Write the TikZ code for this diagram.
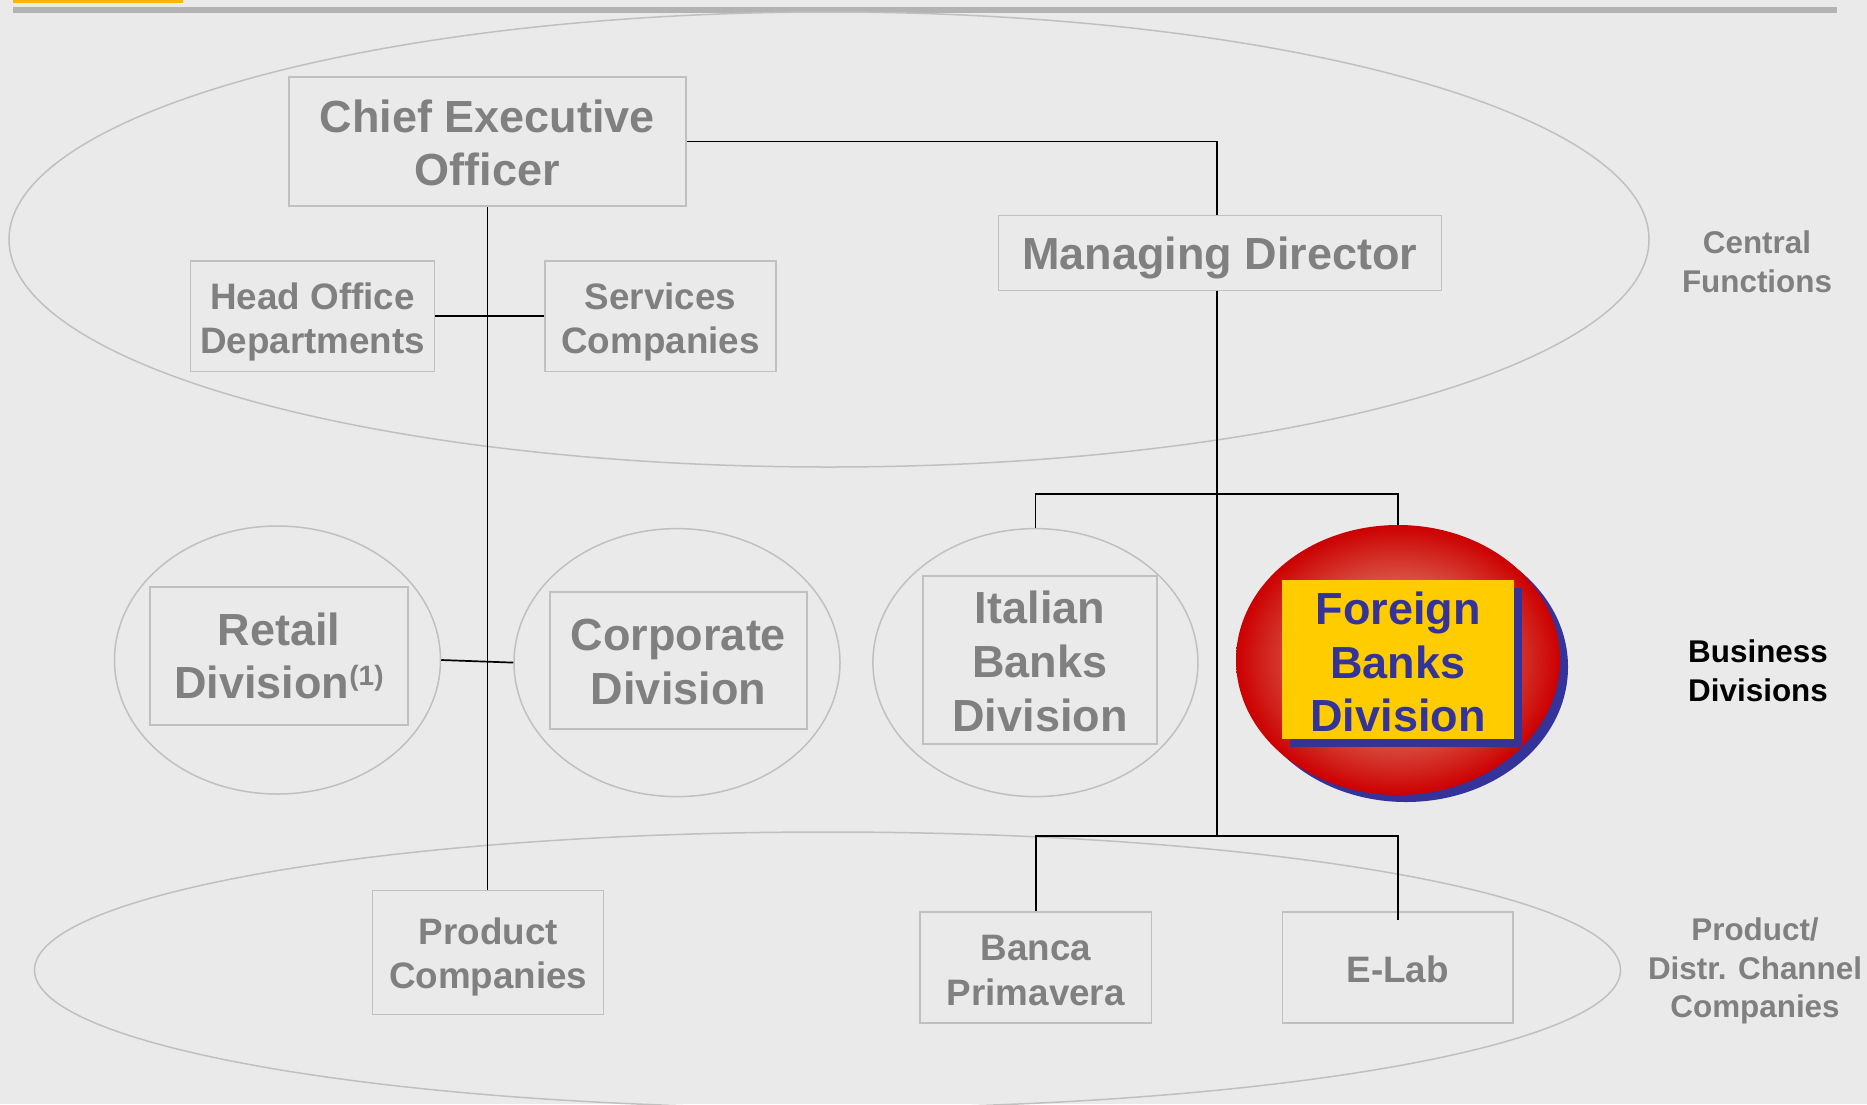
\documentclass[tikz,border=0pt]{standalone}
\usepackage{fontspec}
\setmainfont{Liberation Sans}
\usetikzlibrary{shapes.geometric}
\definecolor{bg}{RGB}{234,234,234}
\definecolor{rulegray}{RGB}{179,179,179}
\definecolor{barorange}{RGB}{255,182,0}
\definecolor{linegray}{RGB}{192,192,192}
\definecolor{txtgray}{RGB}{128,128,128}
\definecolor{fbblue}{RGB}{51,51,153}
\definecolor{fbyellow}{RGB}{255,204,0}
\definecolor{fbred}{RGB}{204,0,0}
\definecolor{fblight}{RGB}{226,145,120}
\pgfdeclareradialshading{redglow}{\pgfpoint{0bp}{0bp}}{%
  color(0bp)=(fblight); color(7bp)=(fblight); color(25bp)=(fbred); color(50bp)=(fbred)}
\begin{document}
\begin{tikzpicture}[x=1pt,y=-1pt,
  bigfont/.style={font=\bfseries\fontsize{45}{53.6}\selectfont},
  midfont/.style={font=\bfseries\fontsize{36.8}{44}\selectfont},
  sidefont/.style={font=\bfseries\fontsize{31.4}{38.5}\selectfont},
  box/.style={draw=linegray, line width=1.5pt, rectangle, inner sep=0pt},
  boxtext/.style={align=center, text=txtgray, inner sep=0pt},
  oval/.style={draw=linegray, line width=1.5pt, ellipse, inner sep=0pt},
  conn/.style={draw=black, line width=1.7pt},
  sidelabel/.style={align=center, sidefont, inner sep=0pt}]
% canvas
\useasboundingbox (0,0) rectangle (1867,1104);
\fill[bg] (0,0) rectangle (1867,1104);
\fill[barorange] (13,0) rectangle (183,2.5);
\fill[rulegray] (13,7) rectangle (1837,13);

% large grouping ellipses
\node[oval, minimum width=1640pt, minimum height=455pt] (central) at (829,239.5) {};
\node[oval, minimum width=1586pt, minimum height=276pt] (lower) at (827.5,970) {};

% division ellipses
\node[oval, minimum width=326pt, minimum height=268pt] (retailov) at (277.5,660) {};
\node[oval, minimum width=326pt, minimum height=268pt] (corpov) at (677,662.6) {};
\node[oval, minimum width=325pt, minimum height=268pt] (italov) at (1035.4,662.6) {};
\node[ellipse, fill=fbblue, inner sep=0pt, minimum width=324pt, minimum height=270pt] (forshadow) at (1406,667) {};
\node[ellipse, inner sep=0pt, minimum width=324pt, minimum height=270pt] (forov) at (1398,660) {};
\shade[shading=redglow] (1398,660) ellipse [x radius=162, y radius=135];

% boxes (frames)
\node[box, minimum width=397pt, minimum height=129pt] (ceo) at (487.5,141.5) {};
\node[box, minimum width=443pt, minimum height=75pt] (md) at (1219.75,253) {};
\node[box, minimum width=244pt, minimum height=110.5pt] (head) at (312.5,316.25) {};
\node[box, minimum width=231pt, minimum height=110.5pt] (serv) at (660.5,316.25) {};
\node[box, minimum width=258pt, minimum height=138pt] (retail) at (279,656) {};
\node[box, minimum width=257pt, minimum height=137pt] (corp) at (678.5,660.5) {};
\node[box, minimum width=234pt, minimum height=168pt] (ital) at (1040,660) {};
\node[rectangle, fill=fbblue, inner sep=0pt, minimum width=232pt, minimum height=159pt] (forboxshadow) at (1406,667.5) {};
\node[rectangle, fill=fbyellow, inner sep=0pt, minimum width=232pt, minimum height=159pt] (foreign) at (1398,659.5) {};
\node[box, minimum width=231pt, minimum height=124pt] (prod) at (488.2,952.5) {};
\node[box, minimum width=231.5pt, minimum height=111pt] (banca) at (1035.75,967.5) {};
\node[box, minimum width=230.5pt, minimum height=111pt] (elab) at (1397.75,967.5) {};

% box texts
\node[boxtext, bigfont] (ceotxt) at ([yshift=-1.5pt]ceo.center) {Chief Executive\\Officer};
\node[boxtext, bigfont] (mdtxt) at ([yshift=-5pt]md.center) {Managing Director};
\node[boxtext, midfont] (headtxt) at ([yshift=-6pt]head.center) {Head Office\\Departments};
\node[boxtext, midfont] (servtxt) at ([yshift=-6pt]serv.center) {Services\\Companies};
\node[boxtext, bigfont] (retailtxt) at (retail.center) {Retail\\Division\raisebox{13pt}{\fontsize{28}{28}\selectfont(1)}};
\node[boxtext, bigfont] (corptxt) at ([yshift=-1.5pt]corp.center) {Corporate\\Division};
\node[boxtext, bigfont] (italtxt) at ([yshift=-1.5pt]ital.center) {Italian\\Banks\\Division};
\node[boxtext, bigfont, text=fbblue] (foreigntxt) at ([yshift=-2.5pt]foreign.center) {Foreign\\Banks\\Division};
\node[boxtext, midfont] (prodtxt) at ([yshift=-4pt]prod.center) {Product\\Companies};
\node[boxtext, midfont] (bancatxt) at ([yshift=-3pt]banca.center) {Banca\\Primavera};
\node[boxtext, midfont] (elabtxt) at ([yshift=-1.5pt]elab.center) {E-Lab};

% connectors
\coordinate (j1) at (1217,494);
\coordinate (j2) at (1217,836);
\coordinate (elabend) at (1397.75,920);
\draw[conn] (ceo.east) -| (md.north -| j1);
\draw[conn] (ceo.south) -- (ceo.south |- prod.north);
\draw[conn] (head.east) -- (serv.west);
\draw[conn] (md.south -| j1) -- (j2);
\draw[conn] (italov.north) |- (j1) -| (forov.north);
\draw[conn] (banca.north) |- (j2) -| (elabend);
\draw[conn] (retailov.east) -- (corpov.west);

% side labels
\node[sidelabel, text=txtgray] (lblcentral) at (1757,262) {Central\\Functions};
\node[sidelabel, text=black] (lblbusiness) at (1758,671) {Business\\Divisions};
\node[sidelabel, text=txtgray] (lblproduct) at (1755,971) {Product/\\Distr. Channel\\Companies};
\end{tikzpicture}
\end{document}
